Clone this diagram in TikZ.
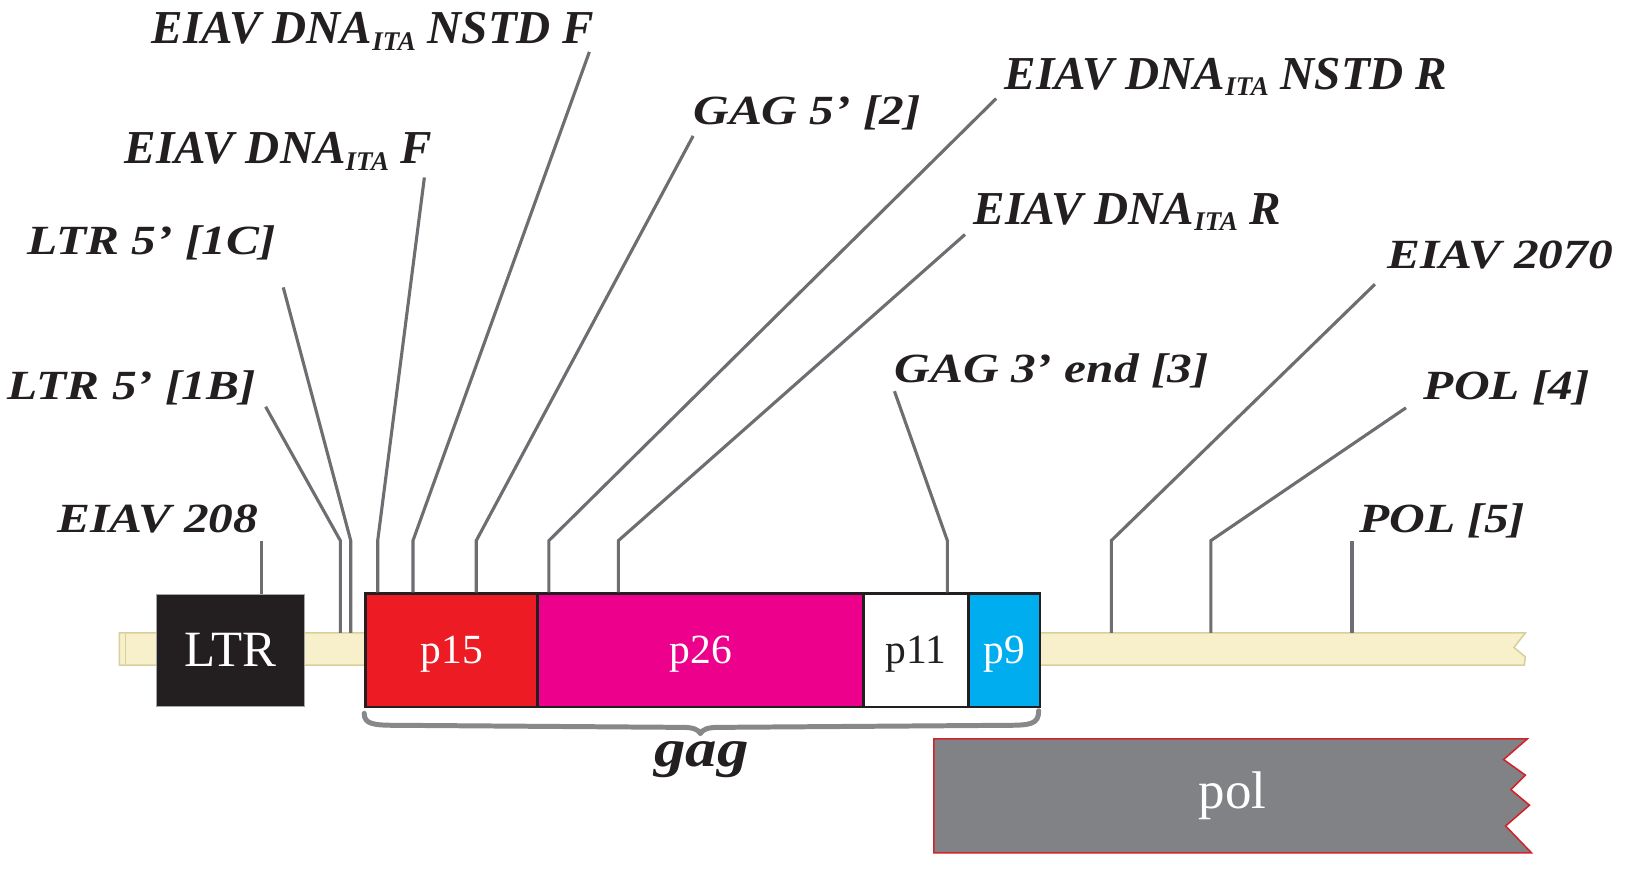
\documentclass[tikz,border=0pt]{standalone}
\usepackage{fontspec}
\setmainfont{Liberation Serif}
\newfontfamily\geofont[FakeStretch=1.19]{Liberation Serif}
\newfontfamily\dnafont{Liberation Serif}
\newcommand\itasub{\raisebox{-6.5pt}{\fontsize{26}{26}\selectfont ITA}}
\definecolor{ltrblack}{HTML}{231F20}
\definecolor{p15red}{HTML}{ED1C24}
\definecolor{p26mag}{HTML}{EC008C}
\definecolor{p9cyan}{HTML}{00AEEF}
\definecolor{polgray}{HTML}{808285}
\definecolor{polred}{HTML}{D2232A}
\definecolor{leadgray}{HTML}{6D6E71}
\definecolor{bracegray}{HTML}{87888A}
\definecolor{bbfill}{HTML}{F8F0CB}
\definecolor{bbdraw}{HTML}{D8D09C}
\definecolor{labblack}{HTML}{231F20}
\begin{document}
\begin{tikzpicture}[x=1pt,y=-1pt,
  lead/.style={draw=leadgray, line width=3pt},
  glab/.style={font=\geofont\bfseries\itshape\fontsize{40}{40}\selectfont, text=labblack, inner sep=0pt},
  dlab/.style={font=\dnafont\bfseries\itshape\fontsize{45.5}{46}\selectfont, text=labblack, inner sep=0pt},
  segbox/.style={draw=ltrblack, line width=2.5pt, inner sep=0pt, anchor=north west,
     minimum height=109pt, text height=25pt, text depth=0pt,
     font=\fontsize{40}{40}\selectfont},
  bracepath/.style={draw=bracegray, line width=4.8pt, line cap=round, line join=round}
]
\useasboundingbox (0,0) rectangle (1568,853);
\fill[white] (0,0) rectangle (1568,853);

% backbone
\coordinate (bbtop) at (0,610);
\filldraw[fill=bbfill, draw=bbdraw, line width=1.5pt]
  (115,610) -- (1470,610) -- (1459,624) -- (1470,633) -- (1469,641) -- (115,641) -- cycle;
\draw[bbdraw, line width=1.2pt] (121,611) -- (121,640);

% LTR
\node[draw=gray!70, line width=1pt, fill=ltrblack, text=white, anchor=north west, inner sep=0pt,
  minimum width=143pt, minimum height=108pt, text height=31pt, text depth=0pt,
  font=\fontsize{49}{49}\selectfont] (ltr) at (150,572) {LTR};

% gag segments
\node[segbox, fill=p15red, text=white, minimum width=166pt] (p15) at (351,571) {p15};
\node[segbox, fill=p26mag, text=white, minimum width=314pt] (p26) at (517,571) {p26};
\node[segbox, fill=white, text=ltrblack, minimum width=101pt] (p11) at (831,571) {p11};
\node[segbox, fill=p9cyan, text=white, minimum width=69pt] (p9) at (932,571) {p9};

% brace and gag label
\draw[bracepath] (p15.south west) ++(0,5) .. controls (351,698) and (360,699) .. (383,699)
  -- (658,701) .. controls (668,701) and (673,703) .. (675,707)
  .. controls (677,703) and (682,701) .. (692,701)
  -- (970,699) .. controls (993,699) and (1001,698) .. (1001,685);
\node[font=\geofont\bfseries\itshape\fontsize{51}{51}\selectfont, text=labblack, inner sep=0pt, anchor=base]
  (gag) at (676,739) {gag};

% pol
\filldraw[fill=polgray, draw=polred, line width=1.5pt]
  (900,712) -- (1472,712) -- (1449,732) -- (1470,747) -- (1456,761) -- (1474,776)
  -- (1451,796) -- (1476,822) -- (900,822) -- cycle;
\node[font=\fontsize{51}{51}\selectfont, text=white, inner sep=0pt, anchor=base] (polt) at (1188,779) {pol};

% labels
\node[glab, anchor=base east] (l208) at (249,513) {EIAV 208};
\node[glab, anchor=base east] (l1B) at (247,385) {LTR 5’ [1B]};
\node[glab, anchor=base east] (l1C) at (266,245) {LTR 5’ [1C]};
\node[dlab, anchor=base east] (lDF) at (417,158) {EIAV DNA\itasub{} F};
\node[dlab, anchor=base east] (lNF) at (573,42) {EIAV DNA\itasub{} NSTD F};
\node[glab, anchor=base west] (lG2) at (668,120) {GAG 5’ [2]};
\node[dlab, anchor=base west] (lNR) at (968,86) {EIAV DNA\itasub{} NSTD R};
\node[dlab, anchor=base west] (lDR) at (938,216) {EIAV DNA\itasub{} R};
\node[glab, anchor=base west] (lG3) at (862,369) {GAG 3’ end [3]};
\node[glab, anchor=base west] (l2070) at (1337,259) {EIAV 2070};
\node[glab, anchor=base west] (lP4) at (1372,385) {POL [4]};
\node[glab, anchor=base west] (lP5) at (1310,513) {POL [5]};

% leader line start points and bends
\coordinate (s1B) at (256,392);  \coordinate (k1B) at (328,521);
\coordinate (s1C) at (273,277);  \coordinate (k1C) at (338,521);
\coordinate (sDF) at (409,171);  \coordinate (kDF) at (364,521);
\coordinate (sNF) at (568,50);   \coordinate (kNF) at (398,521);
\coordinate (sG2) at (668,131);  \coordinate (kG2) at (459,521);
\coordinate (sNR) at (960,95);   \coordinate (kNR) at (529,521);
\coordinate (sDR) at (930,226);  \coordinate (kDR) at (596,521);
\coordinate (sG3) at (862,377);  \coordinate (kG3) at (913,521);
\coordinate (s2070) at (1325,274); \coordinate (k2070) at (1071,521);
\coordinate (sP4) at (1355,393); \coordinate (kP4) at (1167,521);
\coordinate (kP5) at (1303,521);
\coordinate (k208) at (252,521);

\draw[lead] (k208) -- (k208 |- ltr.north);
\draw[lead] (s1B) -- (k1B) -- (k1B |- bbtop);
\draw[lead] (s1C) -- (k1C) -- (k1C |- bbtop);
\draw[lead] (sDF) -- (kDF) -- (kDF |- p15.north);
\draw[lead] (sNF) -- (kNF) -- (kNF |- p15.north);
\draw[lead] (sG2) -- (kG2) -- (kG2 |- p15.north);
\draw[lead] (sNR) -- (kNR) -- (kNR |- p26.north);
\draw[lead] (sDR) -- (kDR) -- (kDR |- p26.north);
\draw[lead] (sG3) -- (kG3) -- (kG3 |- p11.north);
\draw[lead] (s2070) -- (k2070) -- (k2070 |- bbtop);
\draw[lead] (sP4) -- (kP4) -- (kP4 |- bbtop);
\draw[lead] (kP5) -- (kP5 |- bbtop);
\end{tikzpicture}
\end{document}
